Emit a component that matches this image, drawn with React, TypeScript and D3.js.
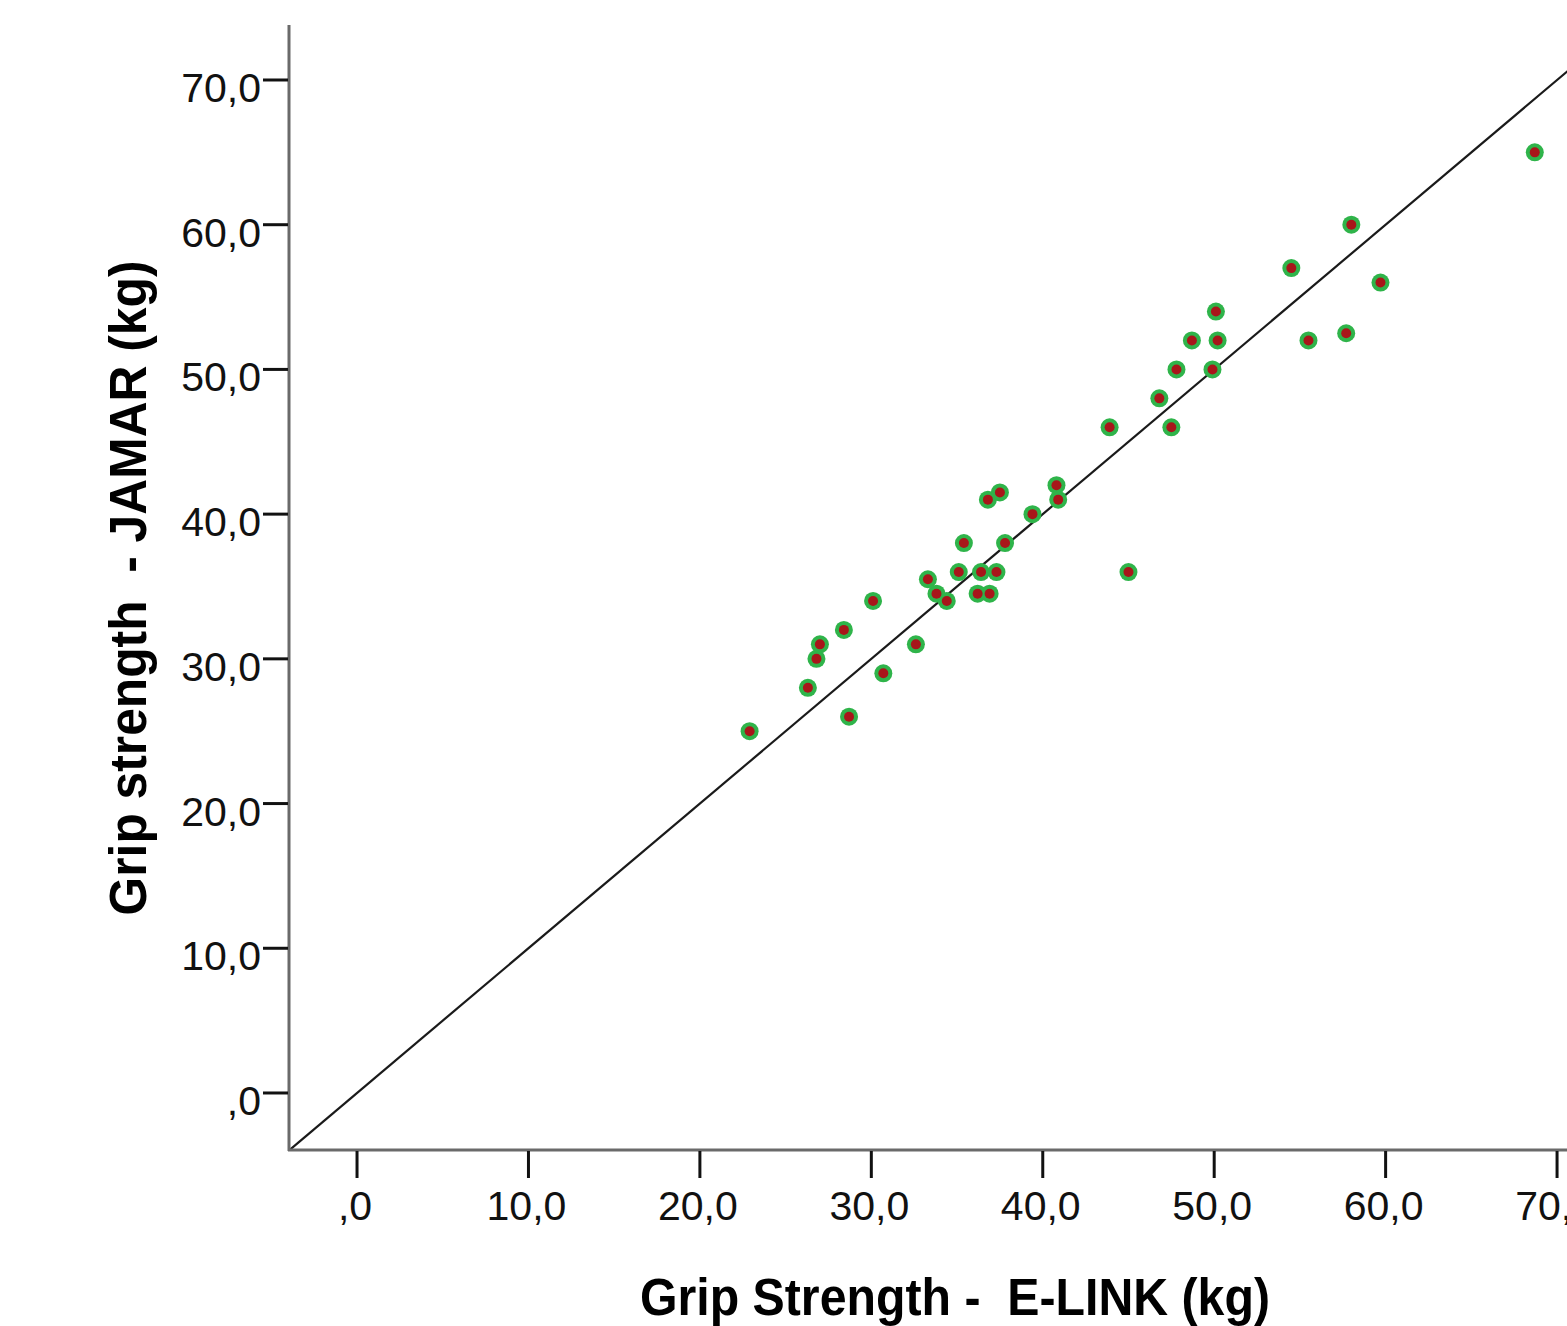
import { useEffect, useRef } from 'react';
import * as d3 from 'd3';

// E-LINK (x) vs JAMAR (y) grip strength, kg
const elink = [
  22.9, 26.3, 26.8, 27.0, 28.4, 28.7, 30.1, 30.7, 32.6, 33.3,
  33.8, 34.4, 35.1, 36.4, 37.3, 36.2, 36.9, 35.4, 37.8, 39.4,
  36.8, 37.5, 40.8, 40.9, 45.0, 43.9, 47.5, 46.8, 47.8, 49.9,
  48.7, 50.2, 50.1, 55.5, 57.7, 54.5, 59.7, 58.0, 68.7,
];
const jamar = [
  25.0, 28.0, 30.0, 31.0, 32.0, 26.0, 34.0, 29.0, 31.0, 35.5,
  34.5, 34.0, 36.0, 36.0, 36.0, 34.5, 34.5, 38.0, 38.0, 40.0,
  41.0, 41.5, 42.0, 41.0, 36.0, 46.0, 46.0, 48.0, 50.0, 50.0,
  52.0, 52.0, 54.0, 52.0, 52.5, 57.0, 56.0, 60.0, 65.0,
];

const xTicks = [0, 10, 20, 30, 40, 50, 60, 70];
const yTicks = [0, 10, 20, 30, 40, 50, 60, 70];
const fmt = (v: number) => (v === 0 ? ',0' : `${v},0`);

const W = 1567;
const H = 1326;

function App() {
  const svgRef = useRef<SVGSVGElement>(null);

  useEffect(() => {
    const svg = d3.select(svgRef.current);
    svg.selectAll('*').remove();

    const x = d3.scaleLinear().domain([-3.91, 70.58]).range([290, 1567]);
    const y = d3.scaleLinear().domain([-3.94, 73.8]).range([1150, 25]);

    const font = '"Liberation Sans", Arial, sans-serif';

    // y = x reference line
    svg.append('line')
      .attr('x1', x(-3.91)).attr('y1', y(-3.91))
      .attr('x2', x(75)).attr('y2', y(75))
      .attr('stroke', '#1a1a1a')
      .attr('stroke-width', 2.2);

    // axes lines
    svg.append('line')
      .attr('x1', 289).attr('x2', 289)
      .attr('y1', y(73.8)).attr('y2', 1151)
      .attr('stroke', '#6a6a6a').attr('stroke-width', 3);
    svg.append('line')
      .attr('x1', 288).attr('x2', W)
      .attr('y1', 1150).attr('y2', 1150)
      .attr('stroke', '#6a6a6a').attr('stroke-width', 3);

    // y ticks
    const yg = svg.append('g');
    yg.selectAll('line').data(yTicks).join('line')
      .attr('x1', 263).attr('x2', 288)
      .attr('y1', d => y(d)).attr('y2', d => y(d))
      .attr('stroke', '#111').attr('stroke-width', 3);
    yg.selectAll('text').data(yTicks).join('text')
      .attr('x', 261)
      .attr('y', d => y(d) + 22)
      .attr('text-anchor', 'end')
      .attr('font-family', font)
      .attr('font-size', 41)
      .attr('fill', '#111')
      .text(d => fmt(d));

    // x ticks
    const xg = svg.append('g');
    xg.selectAll('line').data(xTicks).join('line')
      .attr('x1', d => x(d)).attr('x2', d => x(d))
      .attr('y1', 1151).attr('y2', 1178)
      .attr('stroke', '#111').attr('stroke-width', 3);
    xg.selectAll('text').data(xTicks).join('text')
      .attr('x', d => x(d) - 2)
      .attr('y', 1220)
      .attr('text-anchor', 'middle')
      .attr('font-family', font)
      .attr('font-size', 41)
      .attr('fill', '#111')
      .text(d => fmt(d));

    // points
    const pts = elink.map((v, i) => [v, jamar[i]] as [number, number]);
    const pg = svg.append('g');
    pg.selectAll('circle.outer').data(pts).join('circle')
      .attr('class', 'outer')
      .attr('cx', d => x(d[0])).attr('cy', d => y(d[1]))
      .attr('r', 9)
      .attr('fill', '#2fb44a');
    pg.selectAll('circle.inner').data(pts).join('circle')
      .attr('class', 'inner')
      .attr('cx', d => x(d[0])).attr('cy', d => y(d[1]))
      .attr('r', 5)
      .attr('fill', '#a8161a');

    // axis titles
    svg.append('text')
      .attr('x', 955).attr('y', 1315)
      .attr('text-anchor', 'middle')
      .attr('font-family', '"Liberation Sans Narrow", "Liberation Sans", Arial, sans-serif')
      .attr('font-weight', 'bold')
      .attr('font-size', 51)
      .attr('fill', '#000')
      .attr('textLength', 630)
      .attr('lengthAdjust', 'spacingAndGlyphs')
      .attr('xml:space', 'preserve')
      .text('Grip Strength -  E-LINK (kg)');

    svg.append('text')
      .attr('transform', 'translate(146,588) rotate(-90)')
      .attr('text-anchor', 'middle')
      .attr('font-family', '"Liberation Sans Narrow", "Liberation Sans", Arial, sans-serif')
      .attr('font-weight', 'bold')
      .attr('font-size', 51)
      .attr('fill', '#000')
      .attr('textLength', 655)
      .attr('lengthAdjust', 'spacingAndGlyphs')
      .attr('xml:space', 'preserve')
      .text('Grip strength  - JAMAR (kg)');
  }, []);

  return (
    <svg
      ref={svgRef}
      width={W}
      height={H}
      style={{ position: 'absolute', left: 0, top: 0, background: '#fff' }}
    />
  );
}

export default App;
